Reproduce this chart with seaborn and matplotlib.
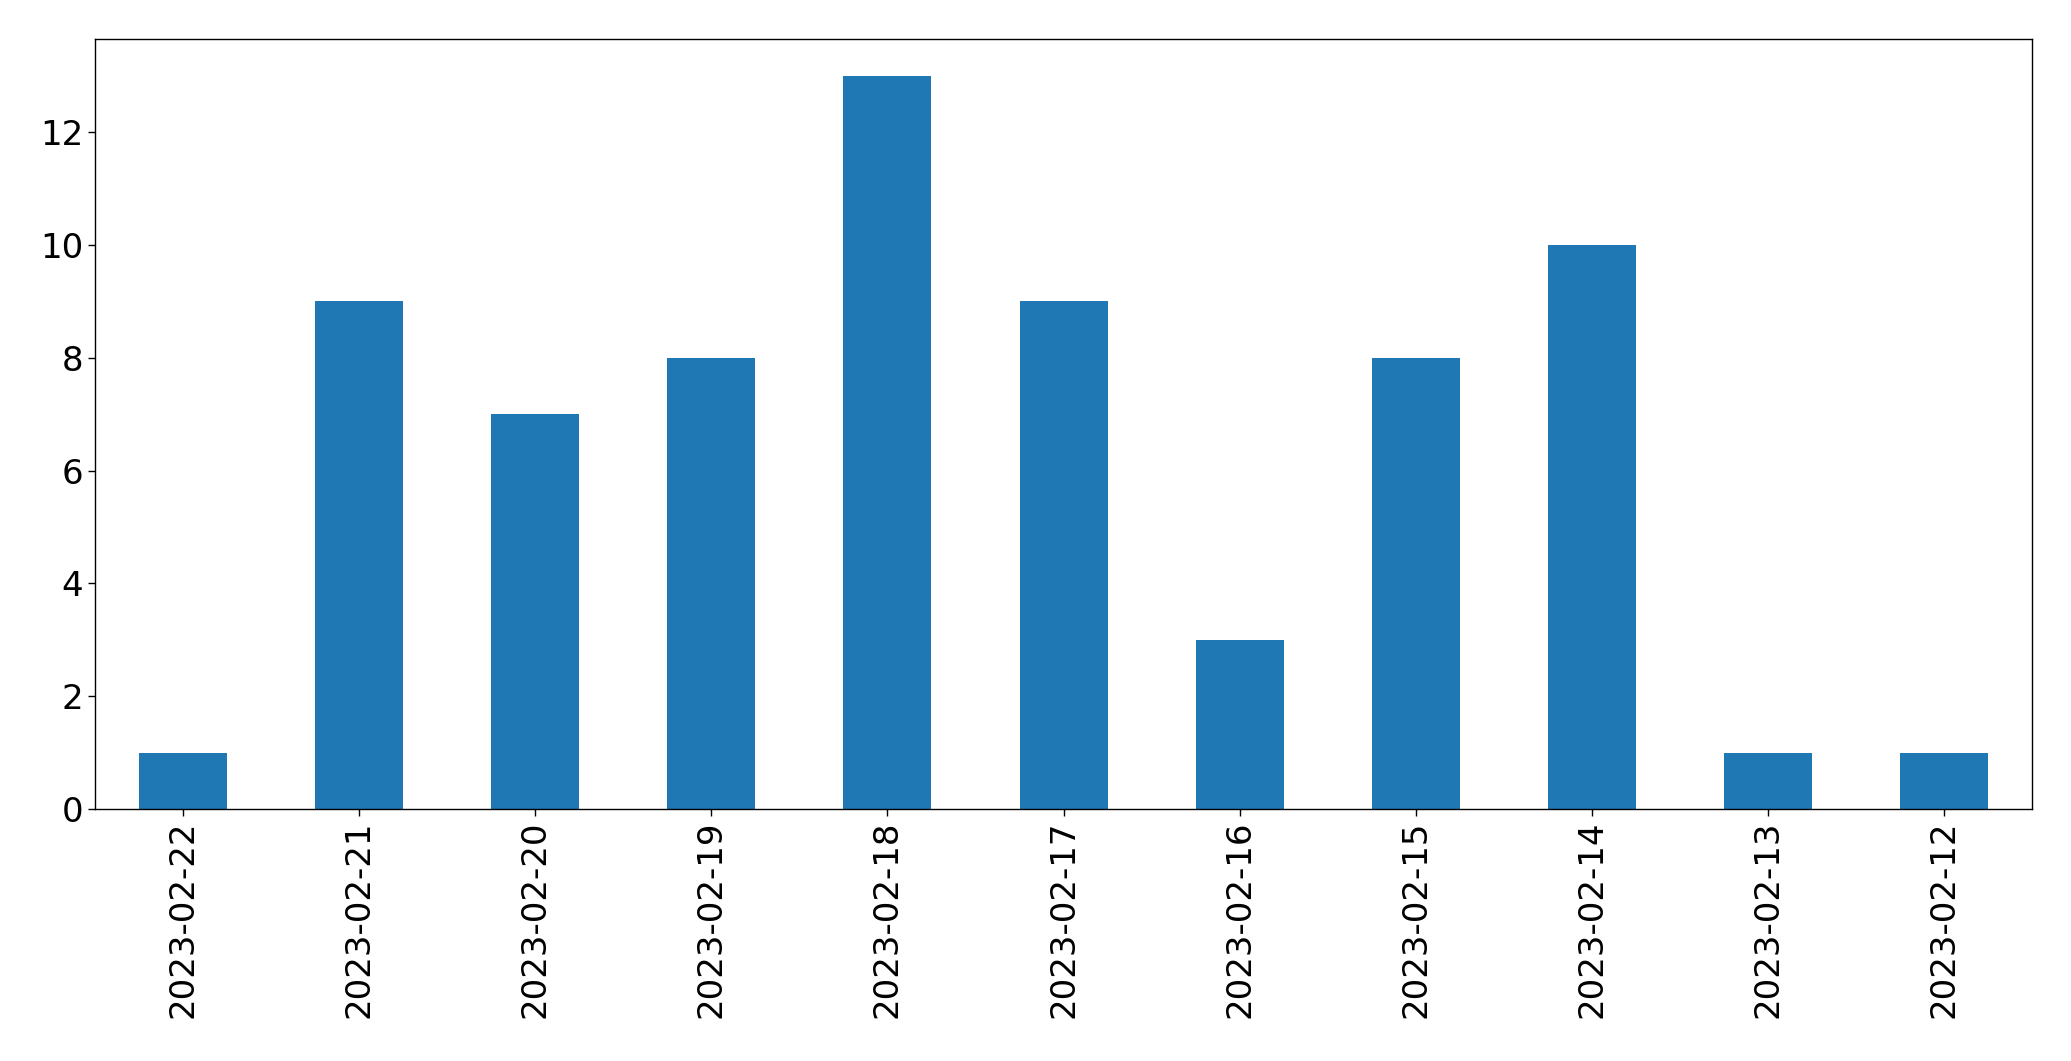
import pandas as pd
import matplotlib
matplotlib.use("Agg")
import matplotlib.pyplot as plt
import seaborn as sns

# data
dates = ["2023-02-22", "2023-02-21", "2023-02-20", "2023-02-19", "2023-02-18",
         "2023-02-17", "2023-02-16", "2023-02-15", "2023-02-14", "2023-02-13",
         "2023-02-12"]
counts = [1, 9, 7, 8, 13, 9, 3, 8, 10, 1, 1]

df = pd.DataFrame({"date": dates, "count": counts})

sns.set_style("white", rc={"text.color": "black", "xtick.color": "black",
                           "ytick.color": "black", "axes.edgecolor": "black",
                           "xtick.bottom": True, "ytick.left": True})
plt.rcParams["font.family"] = ["DejaVu Sans"]

fig, ax = plt.subplots(figsize=(20.71, 10.61), dpi=100)
sns.barplot(data=df, x="date", y="count", order=dates, color="#1f77b4",
            saturation=1, width=0.5, linewidth=0, ax=ax)

ax.set_xlim(-0.5, len(dates) - 0.5)
ax.set_ylim(0, max(counts) * 1.05)
ax.set_xlabel("")
ax.set_ylabel("")
ax.tick_params(axis="both", labelsize=24.5, length=4.9, width=1,
               color="black", labelcolor="black")
ax.tick_params(axis="x", labelrotation=90)
for s in ax.spines.values():
    s.set_color("black")
    s.set_linewidth(1)

fig.subplots_adjust(left=0.0459, right=0.9812, top=0.9632, bottom=0.2375)
fig.savefig("out.png", dpi=100)
